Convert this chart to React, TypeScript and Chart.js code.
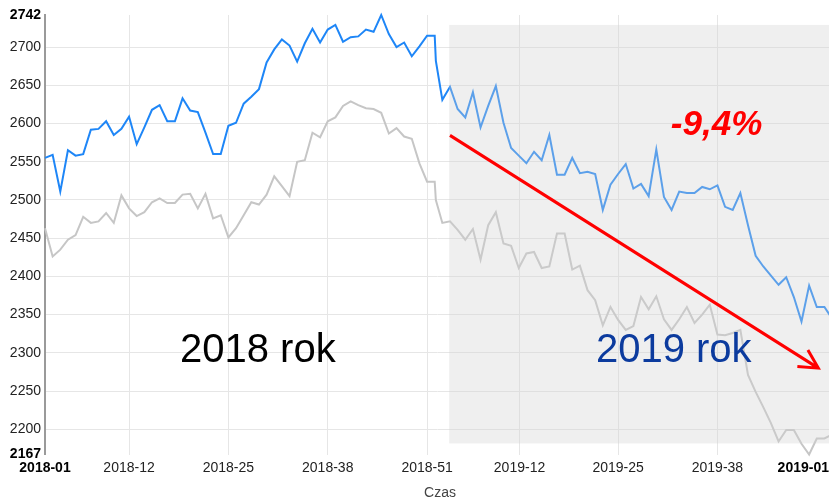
import { useEffect, useRef } from 'react';
import { Chart, registerables } from 'chart.js';

Chart.register(...registerables);

const FONT = '"Liberation Sans", Arial, Helvetica, sans-serif';

// weekly values, 2018 (positions 0..51)
const blue2018 = [
  2555, 2559, 2511, 2565, 2558, 2560, 2592, 2593, 2603, 2585,
  2593, 2609, 2573, 2595, 2618, 2624, 2603, 2603, 2633, 2617,
  2615, 2588, 2560, 2560, 2597, 2601, 2626, 2635, 2645, 2680,
  2697, 2710, 2702, 2681, 2705, 2724, 2706, 2723, 2729, 2707,
  2713, 2714, 2723, 2720, 2742, 2717, 2700, 2706, 2688, 2701,
  2715, 2715,
];
const gray2018 = [
  2463, 2426, 2435, 2448, 2454, 2478, 2470, 2472, 2483, 2470,
  2506, 2489, 2479, 2484, 2497, 2502, 2496, 2496, 2507, 2508,
  2489, 2508, 2476, 2480, 2451, 2463, 2480, 2497, 2494, 2507,
  2531, 2518, 2505, 2550, 2552, 2588, 2582, 2603, 2608, 2623,
  2629, 2624, 2620, 2619, 2614, 2587, 2594, 2583, 2580, 2548,
  2524, 2524,
];
// 2019 values (first one sits just after the last 2018 week, then 52..103)
const blue2019 = [
  2682, 2631, 2648, 2619, 2608, 2641, 2595, 2623, 2649, 2601,
  2568, 2558, 2548, 2563, 2552, 2585, 2533, 2533, 2555, 2535,
  2537, 2534, 2487, 2520, 2534, 2547, 2515, 2521, 2505, 2566,
  2504, 2487, 2511, 2509, 2509, 2517, 2514, 2519, 2491, 2487,
  2509, 2467, 2427, 2413, 2401, 2389, 2399, 2373, 2341, 2388,
  2360, 2360, 2345,
];
const gray2019 = [
  2500, 2470, 2472, 2461, 2448, 2462, 2422, 2467, 2484, 2443,
  2440, 2411, 2430, 2432, 2411, 2413, 2456, 2456, 2409, 2414,
  2382, 2369, 2336, 2360, 2343, 2330, 2335, 2373, 2357, 2374,
  2344, 2330, 2344, 2360, 2339, 2350, 2363, 2324, 2323, 2326,
  2330, 2271, 2249, 2229, 2208, 2184, 2199, 2199, 2181, 2167,
  2188, 2188, 2193,
];
const yearBreakPos = 51.15;

const xTickPos = [0, 11, 24, 37, 50, 62.1, 75, 88];
const xTickLabels = ['2018-01', '2018-12', '2018-25', '2018-38', '2018-51', '2019-12', '2019-25', '2019-38'];
const xEndLabel = '2019-01';
const xMax = 102.6;

const yMin = 2167;
const yMax = 2742;
const yTicks = [2167, 2200, 2250, 2300, 2350, 2400, 2450, 2500, 2550, 2600, 2650, 2700, 2742];

const axisTitle = 'Czas';
const label2018 = '2018 rok';
const label2019 = '2019 rok';
const changeLabel = '-9,4%';

// annotation anchors in data units
const shadeFrom = 52.9;
const shadeTop = 2729;
const shadeBottom = 2181.5;
const arrowFrom = { x: 53.0, y: 2584.5 };
const arrowTo = { x: 101.2, y: 2280 };
const label2018Pos = { x: 17.67, y: 2288.5 };
const label2019Pos = { x: 72.1, y: 2288.5 };
const changePos = { x: 81.9, y: 2585 };

function toPoints(a: number[], b: number[]) {
  const pts = a.map((y, i) => ({ x: i, y }));
  b.forEach((y, k) => pts.push({ x: k === 0 ? yearBreakPos : 51 + k, y }));
  return pts;
}

const annotationPlugin = {
  id: 'annotations',
  afterDatasetsDraw(chart: any) {
    const { ctx, chartArea, scales } = chart;
    const x = scales.x;
    const y = scales.y;
    ctx.save();
    // shaded 2019 area
    const sx = x.getPixelForValue(shadeFrom);
    const st = y.getPixelForValue(shadeTop);
    const sb = y.getPixelForValue(shadeBottom);
    ctx.fillStyle = 'rgba(208,208,208,0.35)';
    ctx.fillRect(sx, st, chartArea.right + 20 - sx, sb - st);

    // arrow
    const ax = x.getPixelForValue(arrowFrom.x);
    const ay = y.getPixelForValue(arrowFrom.y);
    const bx = x.getPixelForValue(arrowTo.x);
    const by = y.getPixelForValue(arrowTo.y);
    ctx.strokeStyle = '#ff0000';
    ctx.lineWidth = 3;
    ctx.lineCap = 'butt';
    ctx.beginPath();
    ctx.moveTo(ax, ay);
    ctx.lineTo(bx, by);
    const ang = Math.atan2(by - ay, bx - ax);
    const head = 21;
    const spread = (28 * Math.PI) / 180;
    ctx.moveTo(bx - head * Math.cos(ang - spread), by - head * Math.sin(ang - spread));
    ctx.lineTo(bx, by);
    ctx.lineTo(bx - head * Math.cos(ang + spread), by - head * Math.sin(ang + spread));
    ctx.stroke();

    // texts
    ctx.textAlign = 'left';
    ctx.textBaseline = 'alphabetic';
    ctx.font = `40px ${FONT}`;
    ctx.fillStyle = '#000000';
    ctx.fillText(label2018, x.getPixelForValue(label2018Pos.x), y.getPixelForValue(label2018Pos.y));
    ctx.fillStyle = '#0c3b9e';
    ctx.fillText(label2019, x.getPixelForValue(label2019Pos.x), y.getPixelForValue(label2019Pos.y));
    ctx.font = `italic bold 35px ${FONT}`;
    ctx.fillStyle = '#ff0000';
    ctx.fillText(changeLabel, x.getPixelForValue(changePos.x), y.getPixelForValue(changePos.y));
    ctx.restore();
  },
  afterDraw(chart: any) {
    const { ctx, chartArea, scales } = chart;
    const x = scales.x;
    ctx.save();
    ctx.font = `bold 14px ${FONT}`;
    ctx.fillStyle = '#000000';
    ctx.textAlign = 'right';
    ctx.textBaseline = 'middle';
    ctx.fillText(xEndLabel, chartArea.right, x.top + 5 + 8.4);
    ctx.font = `14px ${FONT}`;
    ctx.fillStyle = '#444444';
    ctx.textAlign = 'center';
    ctx.textBaseline = 'alphabetic';
    ctx.fillText(axisTitle, (chartArea.left + chartArea.right) / 2 + 3, x.top + 42.5);
    ctx.restore();
  },
};

export default function App() {
  const ref = useRef<HTMLCanvasElement | null>(null);

  useEffect(() => {
    if (!ref.current) return;
    const chart = new Chart(ref.current, {
      type: 'line',
      data: {
        datasets: [
          {
            label: 'blue',
            data: toPoints(blue2018, blue2019),
            borderColor: '#1e86f7',
            borderWidth: 2,
            pointRadius: 0,
            tension: 0,
            fill: false,
            clip: false as any,
          },
          {
            label: 'gray',
            data: toPoints(gray2018, gray2019),
            borderColor: '#c6c6c6',
            borderWidth: 2,
            pointRadius: 0,
            tension: 0,
            fill: false,
            clip: false as any,
          },
        ],
      },
      options: {
        animation: false,
        responsive: false,
        devicePixelRatio: 1,
        layout: { padding: { top: 15, right: 0, bottom: 0, left: 0 } },
        plugins: {
          legend: { display: false },
          tooltip: { enabled: false },
        },
        scales: {
          x: {
            type: 'linear',
            min: 0,
            max: xMax,
            afterBuildTicks: (s: any) => {
              s.ticks = xTickPos.map((v) => ({ value: v }));
            },
            afterFit: (s: any) => {
              s.height = 43.5;
              s.paddingLeft = 0;
              s.paddingRight = 0;
            },
            border: { display: false },
            grid: {
              drawTicks: false,
              lineWidth: 1,
              color: (c: any) => (c.tick && c.tick.value === 0 ? 'rgba(0,0,0,0)' : '#e6e6e6'),
            },
            ticks: {
              autoSkip: false,
              maxRotation: 0,
              minRotation: 0,
              padding: 5,
              callback: (_v: any, i: number) => xTickLabels[i],
              color: (c: any) => (c.index === 0 ? '#000000' : '#222222'),
              font: (c: any) => ({ family: FONT, size: 14, weight: c.index === 0 ? 'bold' : 'normal' }),
            },
          },
          y: {
            type: 'linear',
            min: yMin,
            max: yMax,
            afterBuildTicks: (s: any) => {
              s.ticks = yTicks.map((v) => ({ value: v }));
            },
            afterFit: (s: any) => {
              s.width = 45;
              s.paddingTop = 0;
              s.paddingBottom = 0;
            },
            border: { display: true, color: '#9a9a9a', width: 2 },
            grid: {
              drawTicks: false,
              lineWidth: 1,
              color: (c: any) =>
                c.tick && (c.tick.value === yMin || c.tick.value === yMax) ? 'rgba(0,0,0,0)' : '#e6e6e6',
            },
            ticks: {
              autoSkip: false,
              padding: 4,
              callback: (v: any) => String(v),
              color: (c: any) =>
                c.tick && (c.tick.value === yMin || c.tick.value === yMax) ? '#000000' : '#222222',
              font: (c: any) => ({
                family: FONT,
                size: 14,
                weight: c.tick && (c.tick.value === yMin || c.tick.value === yMax) ? 'bold' : 'normal',
              }),
            },
          },
        },
      },
      plugins: [annotationPlugin],
    });
    return () => chart.destroy();
  }, []);

  return (
    <div style={{ position: 'fixed', left: 0, top: 0, width: 829, height: 498, overflow: 'hidden', background: '#ffffff' }}>
      <canvas ref={ref} width={829} height={498} style={{ display: 'block', width: 829, height: 498 }} />
    </div>
  );
}
